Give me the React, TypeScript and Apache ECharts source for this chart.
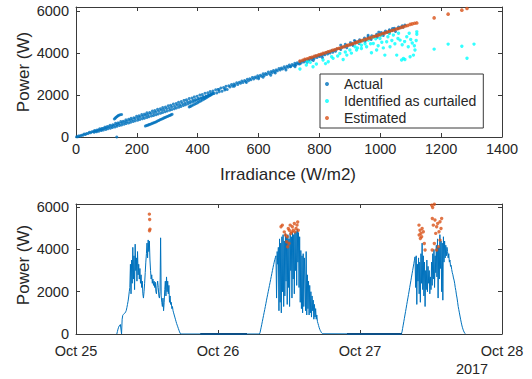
import React, { useEffect, useRef } from 'react';
import * as echarts from 'echarts';

const FONT = '"Liberation Sans", Arial, Helvetica, sans-serif';
const TXT = '#262626';
const AXC = '#3a3a3a';
const BLUE = '#0072BD';
const CYAN = '#00FFFF';
const ORANGE = '#D95319';

const seriesNames = ['Actual', 'Identified as curtailed', 'Estimated'];
const dayLabels = ['Oct 25', 'Oct 26', 'Oct 27', 'Oct 28'];
const yearLabel = '2017';
const yTitle = 'Power (W)';
const xTitle = 'Irradiance (W/m2)';

// ---- top scatter: [irradiance W/m2, power W]
const actualMain: number[][] = [
  [2,8],[9,52],[18,85],[27,140],[35,165],[44,225],[52,248],[61,305],[69,330],[78,392],[86,410],[95,470],[103,498],[112,560],[121,585],[130,650],[138,672],[147,735],[155,752],[164,815],[173,842],[181,893],[190,920],[199,985],[207,1010],[216,1068],[225,1090],[233,1150],[242,1172],[251,1238],[259,1262],[268,1318],[277,1345],[285,1402],[294,1425],[303,1492],[311,1515],[320,1575],[329,1598],[337,1660],[346,1688],[355,1745],[363,1770],[372,1832],[381,1858],[389,1912],[398,1940],[407,2002],[415,2022],[424,2085],[433,2108],[441,2165],[450,2190],[459,2252],[467,2270],[476,2338],[485,2362],[493,2418],[502,2440],[511,2505],[519,2528],[528,2590],[537,2612],[545,2668],[554,2695],[563,2755],[571,2778],[580,2842],[589,2862],[597,2920],[606,2948],[615,3010],[623,3030],[632,3095],[641,3118],[649,3175],[658,3200],[667,3262],[675,3285],[684,3348],[693,3372],[701,3428],[710,3455],[719,3518],[727,3540],[736,3600],[745,3625],[753,3682],[762,3710],[771,3772],[779,3795],[788,3858],[797,3880],[805,3938],[814,3965],[823,4028],[831,4050],[840,4112],[849,4135],[857,4195],[866,4222],[875,4282],[883,4305],[892,4368],[901,4390],[909,4450],[918,4478],[927,4538],[935,4562],[944,4622],[953,4648],[961,4708],[970,4732],[979,4792],[987,4818],[996,4880],[1005,4905],[1013,4965],[1022,4990],[1031,5050],[1039,5075],[1048,5135],[1057,5160],[1066,5215],[1075,5240]
];
const actualLower: number[][] = [
  [6,10],[14,45],[23,90],[31,120],[40,170],[48,200],[57,255],[65,280],[74,330],[82,355],[91,405],[99,430],[108,485],[117,510],[125,560],[134,590],[142,640],[151,665],[160,720],[168,745],[177,800],[185,825],[194,880],[203,905],[211,958],[220,985],[229,1040],[237,1065],[246,1118],[255,1145],[263,1195],[272,1225],[281,1280],[289,1305],[298,1360],[307,1385],[315,1440],[324,1465],[333,1520],[341,1545],[350,1600],[359,1625],[367,1680],[376,1705],[385,1760],[393,1785],[402,1840],[411,1865],[419,1920],[428,1945],[437,2000],[445,2025],[454,2080],[463,2105],[471,2160],[480,2185],[489,2240],[497,2265],[506,2390],[515,2425],[523,2475],[532,2510],[541,2560],[549,2600],[558,2645],[567,2680],[575,2730],[584,2770],[593,2815],[601,2850],[610,2900],[619,2935],[627,2985],[636,3020],[645,3070],[653,3105],[662,3155],[671,3195],[679,3240],[688,3280],[697,3325],[705,3360],[714,3410],[723,3450],[731,3495],[740,3535],[749,3580],[757,3620],[766,3665],[775,3700],[783,3750],[792,3790],[801,3835],[809,3875],[818,3920],[827,3960],[835,4005],[844,4045],[853,4090],[870,4170],[890,4260],[910,4370],[930,4460],[950,4560],[970,4650],[990,4760],[1010,4840],[1030,4950],[1050,5030]
];
const actualBranchA: number[][] = [
  [60,230],[68,255],[75,280],[83,305],[90,330],[98,360],[105,390],[113,420],[120,450],[128,480],[135,510],[143,545],[150,575],[158,610],[165,640],[173,670],[180,705],[188,740],[195,770],[203,805],[210,835],[218,870],[225,900],[233,935],[240,965],[248,1000],[255,1030],[263,1065],[270,1100],[278,1135],[285,1170],[293,1205],[300,1240],[308,1275],[315,1310],[323,1350],[330,1385],[338,1420],[345,1460],[353,1500],[360,1540],[368,1580],[375,1620],[383,1665],[390,1710],[398,1755],[405,1800],[413,1845],[420,1890],[428,1940],[435,1990],[442,2035],[448,2080]
];
const actualBranchB: number[][] = [
  [228,520],[232,545],[236,565],[240,590],[244,610],[248,635],[252,660],[256,680],[260,705],[264,730],[268,760],[272,790],[276,820],[280,845],[284,870],[288,900],[292,925],[296,950],[300,980],[304,1005],[308,1030],[312,1055],[316,1080],
  [372,1430],[376,1460],[380,1490],[385,1525],[390,1560],[395,1600],[400,1640],[405,1680],[410,1720],[415,1760],[420,1800],[424,1835],[428,1870],[432,1905],[436,1940],[440,1975],[444,2010],[450,2060]
];
const actualHook: number[][] = [
  [126,860],[129,900],[132,940],[135,975],[138,1010],[141,1040],[145,1060],[150,1075],[134,0]
];
const actualScattered: number[][] = [
  [885,4420],[902,4500],[918,4570],[932,4640],[948,4720],[960,4780],[972,4830],[988,4900],[1003,4980],[1017,5050],[1030,5110],[1046,5180],[1060,5240],[1072,5300],[1081,5340],[960,4850],[995,5000],[1040,5170],[915,4600],[870,4380],
  [615,2850],[640,2950],[655,3050],[690,3200],[720,3350],[600,2780],[560,2600],[520,2420],[470,2250],[490,2300],
  [705,3350],[720,3420],[735,3480],[760,3560],[780,3650],[810,3780]
];
const curtailed: number[][] = [
  [736,3240],[757,3430],[779,3350],[790,3480],[812,3670],[829,3590],[840,3825],[845,3750],[867,3985],[878,3700],[890,3905],[900,4145],[917,4300],[922,4145],[930,4500],[938,4220],[938,4380],[945,4600],[955,4300],[961,4620],[968,4450],[971,4015],[977,4460],[985,4680],[988,4145],[993,4350],[999,4700],[1005,4520],[1010,4250],[1015,3905],[1021,4540],[1025,4780],[1032,4300],[1038,4600],[1043,4860],[1048,4450],[1054,3905],[1058,4700],[1065,4620],[1070,3670],[1072,4400],[1076,3745],[1080,4550],[1081,3700],[1087,4780],[1092,4300],[1098,3825],[1100,4650],[1105,4480],[1109,3905],[1114,4145],[1118,4600],[1120,5015],[1120,4900],[1112,4350],[1095,4950],[1060,4950],[1030,4950],[1003,4850],[975,4750],[950,4450],[925,4250],[905,4000],[885,4050],[860,3860],[820,3500],[770,3560],[760,3600],
  [1177,4190],[1223,4430],[1268,4330],[1285,3760],[1308,4430]
];
const estimated: number[][] = [
  [736,3620],[745,3660],[752,3705],[760,3730],[768,3780],[775,3800],[783,3850],[790,3875],[798,3920],[805,3945],[812,3990],[820,4015],[828,4065],[835,4090],[843,4135],[850,4160],[858,4210],[865,4235],[873,4280],[880,4305],[888,4355],[895,4380],[903,4425],[910,4450],[918,4500],[925,4525],[933,4570],[940,4595],[948,4645],[955,4670],[963,4715],[970,4740],[978,4790],[985,4815],[993,4860],[1000,4885],[1008,4935],[1015,4960],[1023,5005],[1030,5030],[1038,5080],[1045,5105],[1053,5150],[1060,5175],[1068,5225],[1075,5250],[1083,5295],[1090,5320],[1098,5370],[1105,5395],[1113,5425],[1120,5440],
  [1177,5680],[1223,5860],[1268,6050],[1285,6130]
];

// ---- bottom time series: hours since Oct 25 00:00, sampled every 0.1 h
const sampleStep = 0.1;
const day1Start = 6.9;
const day1Power = [
  0,120,230,320,380,420,450,460,0,700,880,920,950,980,1000,1050,1120,1250,1400,1550,1750,2000,
  2200,3300,1900,3500,2400,4100,2600,3700,2100,4250,3000,3600,2500,3900,2800,3300,2600,3100,2400,2800,
  2200,2500,1900,1700,2000,2400,2900,3400,3800,4300,3600,4450,3900,4400,3500,3000,2600,2800,2400,2600,
  2300,2500,2200,2450,2000,1900,2300,2500,2200,1800,1700,2000,4550,1800,1500,1300,1700,1100,1500,2100,
  2500,1800,2700,2000,2500,1900,2300,1500,1800,1400,1500,1200,1300,1100,1000,900,800,700,600,500,
  420,340,260,180,100,40,0
];
const day2Start = 31.0;
const day2Power = [
  0,60,190,320,460,600,740,880,1020,1160,1300,1450,1600,1740,1880,2020,2160,2300,2440,2580,2720,2860,3000,3140,3280,3400,3520,3620,
  3700,1700,3900,3300,4100,1100,4500,1500,4300,1000,4600,2000,4700,1300,4400,1800,4750,2500,4600,1400,
  4700,2200,4500,1300,4750,3000,4600,1700,4800,2600,4700,1900,4800,3000,4850,2300,4950,3400,4800,2200,
  4600,1500,3950,1200,3700,1000,3800,1300,3600,2600,1100,3900,900,2800,1200,2500,900,2300,1000,2000,
  800,1800,1100,1600,700,1400,800,1200,700,900,600,500,400,300,220,160,110,60,30,10,0
];
const day3Start = 55.0;
const day3Power = [
  0,100,260,420,580,740,900,1060,1220,1390,1550,1710,1870,2030,2200,2360,2520,2690,2850,3010,3170,3330,3490,3650,
  2200,3700,1400,3300,2500,3600,1900,3400,1500,3800,2400,4300,2100,3700,1800,3400,1300,3000,2100,3500,
  2000,3200,2400,3000,1900,2700,2100,3400,2300,3800,2600,4000,2200,3700,2900,4200,2700,4500,1700,4100,
  2600,4700,3100,4400,2000,4300,1600,4600,3400,4400,3600,4200,3700,4100,3900,
  3600,3800,3400,3500,3200,3250,3050,2900,2800,2650,2550,2400,2200,2050,1850,1700,1500,1300,1150,1000,
  850,700,560,430,320,230,150,90,40,10,0
];
const nightSegments: number[][] = [[21.0, 0], [28.9, 0]];
const nightSegments2: number[][] = [[45.8, 0], [55.1, 0]];
const estimatedTime: number[][] = [
  [12.4,5670],[12.45,5420],[12.5,4960],[12.42,4880],
  [34.65,5070],[34.87,5150],[35.2,4830],[35.4,4680],[35.6,4360],[35.77,4125],[35.88,4990],[36.05,4910],[36.2,5150],[36.3,4750],[36.56,5070],[36.73,4910],[36.9,5230],[37.0,4830],[37.2,4990],[37.35,5150],[37.47,5300],[37.57,4910],[35.7,4600],[36.0,4280],[36.45,4830],
  [57.97,5150],[58.14,4910],[58.3,4760],[58.42,4600],[58.0,4680],[58.5,4990],[58.2,4520],[58.7,4840],[58.87,4280],[59.0,3970],[60.11,6090],[60.28,5980],[60.56,6140],[60.22,5460],[60.39,5150],[60.67,5390],[60.95,5070],[61.13,5230],[61.35,4840],[61.52,5310],[60.8,4760],[60.56,4280],[60.95,3970],[61.24,4130],[61.52,4440],[61.69,4990],[61.8,5460],[60.2,3970]
];

const sampled = (start: number, vals: number[]) =>
  vals.map((v, i) => [Math.round((start + i * sampleStep) * 100) / 100, v]);

export default function App() {
  const ref = useRef<HTMLDivElement>(null);
  useEffect(() => {
    if (!ref.current) return;
    const chart = echarts.init(ref.current, null, { renderer: 'svg' });
    const line = { show: true, onZero: false, lineStyle: { color: AXC, width: 1 } };
    const tick = { show: true, inside: true, length: 4, lineStyle: { color: AXC, width: 1 } };
    const lbl = { color: TXT, fontFamily: FONT, fontSize: 14.5 };
    const numFmt = (step: number) => (v: number) => (v % step === 0 ? String(v) : '');
    const hidden = { show: false };
    const timeLine = [
      ...sampled(day1Start, day1Power),
      ...sampled(day2Start, day2Power),
      ...sampled(day3Start, day3Power),
    ];
    chart.setOption({
      animation: false,
      backgroundColor: '#ffffff',
      grid: [
        { left: 76, top: 7, width: 426, height: 130, containLabel: false, outerBoundsMode: 'none' },
        { left: 76, top: 204, width: 426, height: 130, containLabel: false, outerBoundsMode: 'none' },
      ],
      xAxis: [
        { gridIndex: 0, type: 'value', position: 'bottom', min: 0, max: 1400, interval: 200, axisLine: line, axisTick: tick, splitLine: hidden, axisLabel: { ...lbl, margin: 4, formatter: numFmt(200) } },
        { gridIndex: 0, type: 'value', position: 'top', min: 0, max: 1400, interval: 200, axisLine: line, axisTick: tick, splitLine: hidden, axisLabel: hidden },
        { gridIndex: 1, type: 'value', position: 'bottom', min: 0, max: 72, interval: 24, axisLine: line, axisTick: tick, splitLine: hidden, axisLabel: { ...lbl, margin: 9, formatter: (v: number) => dayLabels[Math.round(v / 24)] || '' } },
        { gridIndex: 1, type: 'value', position: 'top', min: 0, max: 72, interval: 24, axisLine: line, axisTick: tick, splitLine: hidden, axisLabel: hidden },
      ],
      yAxis: [
        { gridIndex: 0, type: 'value', position: 'left', min: 0, max: 6200, interval: 2000, axisLine: line, axisTick: tick, splitLine: hidden, axisLabel: { ...lbl, margin: 7, formatter: numFmt(2000) } },
        { gridIndex: 0, type: 'value', position: 'right', min: 0, max: 6200, interval: 2000, axisLine: line, axisTick: tick, splitLine: hidden, axisLabel: hidden },
        { gridIndex: 1, type: 'value', position: 'left', min: 0, max: 6150, interval: 2000, axisLine: line, axisTick: tick, splitLine: hidden, axisLabel: { ...lbl, margin: 7, formatter: numFmt(2000) } },
        { gridIndex: 1, type: 'value', position: 'right', min: 0, max: 6150, interval: 2000, axisLine: line, axisTick: tick, splitLine: hidden, axisLabel: hidden },
      ],
      legend: {
        data: seriesNames,
        orient: 'vertical',
        left: 320,
        top: 74,
        padding: [3, 7, 3, 5],
        itemWidth: 24,
        itemHeight: 4,
        itemGap: 3,
        icon: 'circle',
        backgroundColor: '#ffffff',
        borderColor: AXC,
        borderWidth: 1,
        borderRadius: 0,
        selectedMode: false,
        textStyle: { color: TXT, fontFamily: FONT, fontSize: 14, lineHeight: 14 },
      },
      series: [
        {
          name: seriesNames[0], type: 'scatter', xAxisIndex: 0, yAxisIndex: 0, symbol: 'circle', symbolSize: 3,
          itemStyle: { color: BLUE },
          data: [...actualMain, ...actualLower, ...actualBranchA, ...actualBranchB, ...actualHook, ...actualScattered],
        },
        {
          name: seriesNames[1], type: 'scatter', xAxisIndex: 0, yAxisIndex: 0, symbol: 'circle', symbolSize: 3.4,
          itemStyle: { color: CYAN }, data: curtailed,
        },
        {
          name: seriesNames[2], type: 'scatter', xAxisIndex: 0, yAxisIndex: 0, symbol: 'circle', symbolSize: 3.6,
          itemStyle: { color: ORANGE }, data: estimated,
        },
        {
          name: 'Power', type: 'line', xAxisIndex: 2, yAxisIndex: 2, showSymbol: false, symbol: 'none',
          lineStyle: { color: BLUE, width: 1 }, itemStyle: { color: BLUE }, data: timeLine, z: 2,
        },
        {
          name: 'Night', type: 'line', xAxisIndex: 2, yAxisIndex: 2, showSymbol: false, symbol: 'none',
          lineStyle: { color: '#0d4f86', width: 2 }, data: nightSegments, z: 3,
        },
        {
          name: 'Night2', type: 'line', xAxisIndex: 2, yAxisIndex: 2, showSymbol: false, symbol: 'none',
          lineStyle: { color: '#0d4f86', width: 2 }, data: nightSegments2, z: 3,
        },
        {
          name: 'Estimated power', type: 'scatter', xAxisIndex: 2, yAxisIndex: 2, symbol: 'circle', symbolSize: 3.4,
          itemStyle: { color: ORANGE }, data: estimatedTime, z: 4,
        },
      ],
      graphic: [
        { type: 'text', x: 23.5, y: 72, rotation: Math.PI / 2, style: { text: yTitle, fontSize: 17, fontFamily: FONT, fill: TXT, align: 'center', verticalAlign: 'middle' } },
        { type: 'text', x: 23.5, y: 265, rotation: Math.PI / 2, style: { text: yTitle, fontSize: 17, fontFamily: FONT, fill: TXT, align: 'center', verticalAlign: 'middle' } },
        { type: 'text', x: 288, y: 174, style: { text: xTitle, fontSize: 17, fontFamily: FONT, fill: TXT, align: 'center', verticalAlign: 'middle' } },
        { type: 'text', x: 472, y: 369, style: { text: yearLabel, fontSize: 14.5, fontFamily: FONT, fill: TXT, align: 'center', verticalAlign: 'middle' } },
      ],
    });
    return () => chart.dispose();
  }, []);
  return (
    <div
      ref={ref}
      style={{ position: 'fixed', left: 0, top: 0, width: 532, height: 379, background: '#ffffff' }}
    />
  );
}
